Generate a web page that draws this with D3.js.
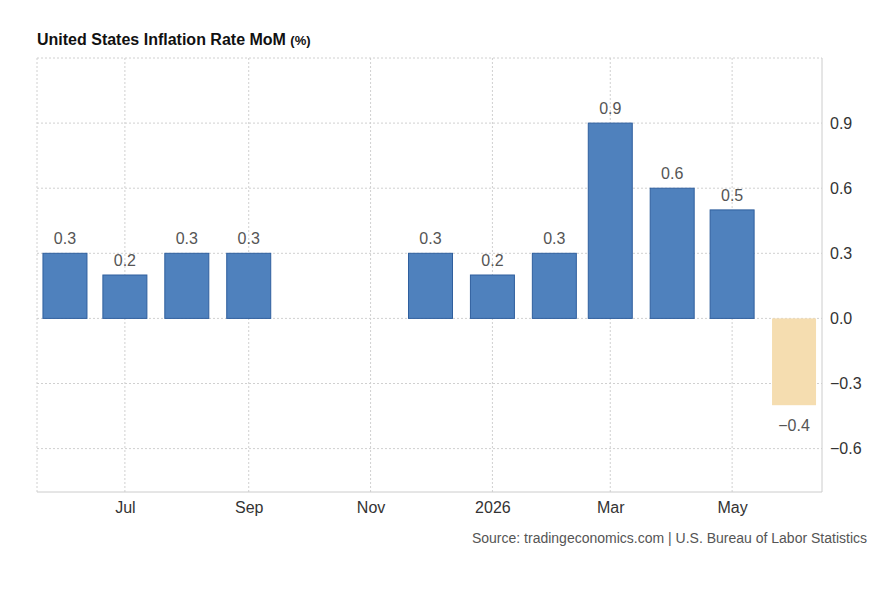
<!DOCTYPE html>
<meta charset="utf-8">
<style>
    body { margin: 0; background: #fff; font-family: "Liberation Sans", Arial, sans-serif; }
    .grid line { stroke: #d0d0d0; stroke-dasharray: 2,2; }
    .axis path, .axis line { display: none; }
    .axis text { font-size: 16px; fill: #333; }
</style>
<svg width="882" height="603"></svg>
<script src="https://cdn.jsdelivr.net/npm/d3@7"></script>
<script>
    var svg = d3.select("svg"),
        margin = {top: 58, right: 60, bottom: 111, left: 37},
        width = 882 - margin.left - margin.right,
        height = 603 - margin.top - margin.bottom;

    var data = [
        {date: "2025-06", value: 0.3},
        {date: "2025-07", value: 0.2},
        {date: "2025-08", value: 0.3},
        {date: "2025-09", value: 0.3},
        {date: "2025-12", value: 0.3},
        {date: "2026-01", value: 0.2},
        {date: "2026-02", value: 0.3},
        {date: "2026-03", value: 0.9},
        {date: "2026-04", value: 0.6},
        {date: "2026-05", value: 0.5},
        {date: "2026-06", value: -0.4, forecast: true}
    ];
    var parse = d3.timeParse("%Y-%m");
    data.forEach(function(d) { d.$date = parse(d.date); });

    var x = d3.scaleTime()
        .domain([new Date(2025, 4, 18), new Date(2026, 5, 15)])
        .range([0, width]);
    var y = d3.scaleLinear().domain([-0.8, 1.2]).range([height, 0]);

    var g = svg.append("g").attr("transform", "translate(" + margin.left + "," + margin.top + ")");

    var ticksX = d3.timeMonth.every(2).range(new Date(2025, 6, 1), new Date(2026, 5, 2));
    var ticksY = [-0.6, -0.3, 0, 0.3, 0.6, 0.9];

    g.append("g").attr("class", "grid").selectAll("line").data(ticksX).enter().append("line")
        .attr("x1", x).attr("x2", x).attr("y1", 0).attr("y2", height);
    g.append("g").attr("class", "grid").selectAll("line").data(ticksY.concat([1.2])).enter().append("line")
        .attr("x1", 0).attr("x2", width).attr("y1", y).attr("y2", y);
    g.append("line").attr("x1", 0).attr("x2", 0).attr("y1", 0).attr("y2", height).attr("stroke", "#d0d0d0").attr("stroke-dasharray", "2,2");
    g.append("line").attr("x1", width).attr("x2", width).attr("y1", 0).attr("y2", height).attr("stroke", "#ccc");
    g.append("line").attr("x1", 0).attr("x2", width).attr("y1", height).attr("y2", height).attr("stroke", "#ccc");

    var bw = 44;
    g.selectAll(".bar").data(data).enter().append("rect")
        .attr("x", function(d) { return x(d.$date) - bw / 2; })
        .attr("y", function(d) { return y(Math.max(0, d.value)); })
        .attr("width", bw)
        .attr("height", function(d) { return Math.abs(y(d.value) - y(0)); })
        .attr("fill", function(d) { return d.forecast ? "#f5ddb0" : "#4f81bd"; })
        .attr("stroke", function(d) { return d.forecast ? "none" : "#2f5f9e"; });

    g.selectAll(".lbl").data(data).enter().append("text")
        .attr("x", function(d) { return x(d.$date); })
        .attr("y", function(d) { return d.value >= 0 ? y(d.value) - 9 : y(d.value) + 26; })
        .attr("text-anchor", "middle")
        .attr("font-size", 16).attr("fill", "#555")
        .text(function(d) { return d3.format(".1f")(d.value); });

    g.append("g").attr("class", "axis")
        .attr("transform", "translate(0," + height + ")")
        .call(d3.axisBottom(x).tickValues(ticksX).tickSize(0).tickPadding(10)
            .tickFormat(function(d) { return d.getMonth() === 0 ? d3.timeFormat("%Y")(d) : d3.timeFormat("%b")(d); }));

    g.append("g").attr("class", "axis")
        .attr("transform", "translate(" + width + ",0)")
        .call(d3.axisRight(y).tickValues(ticksY).tickSize(0).tickPadding(8).tickFormat(d3.format(".1f")));

    svg.append("text").attr("x", 37).attr("y", 45).attr("font-size", 16).attr("font-weight", "bold").attr("fill", "#111")
        .text("United States Inflation Rate MoM ")
        .append("tspan").attr("font-size", 13).text("(%)");

    svg.append("text").attr("x", 867).attr("y", 543).attr("text-anchor", "end").attr("font-size", 14).attr("fill", "#555")
        .text("Source: tradingeconomics.com | U.S. Bureau of Labor Statistics");
</script>
